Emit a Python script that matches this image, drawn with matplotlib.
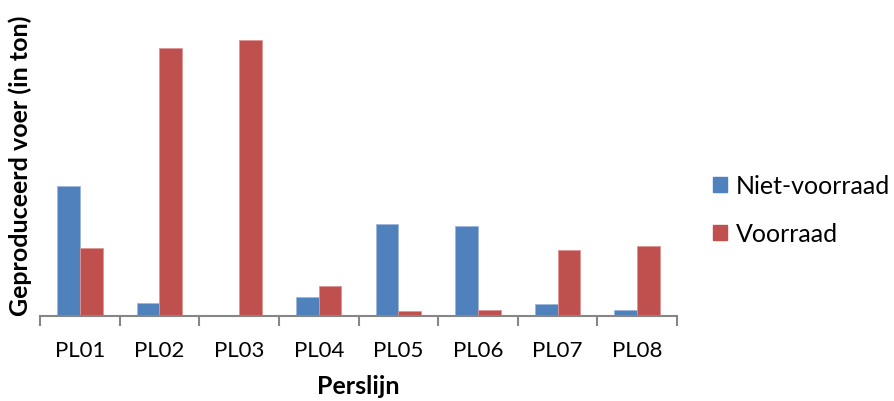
import numpy as np
import matplotlib
matplotlib.use("Agg")
import matplotlib.pyplot as plt
from matplotlib.patches import Patch

plt.rcParams['font.family'] = ['Lato', 'DejaVu Sans']

categories = ['PL01', 'PL02', 'PL03', 'PL04', 'PL05', 'PL06', 'PL07', 'PL08']
niet_voorraad = [130, 13, 1.5, 19, 92, 90, 12, 6]
voorraad = [68, 268, 276, 30, 5, 6, 66, 70]

blue = '#4F81BD'
red = '#C0504D'
grey = '#868686'

fig = plt.figure(figsize=(8.94, 4.01), dpi=100)
ax = fig.add_axes([40 / 894, 85 / 401, 637 / 894, 300 / 401])

x = np.arange(len(categories))
w = 1 / 3.5
ax.bar(x - w / 2, niet_voorraad, w, color=blue, edgecolor='#9DB6DA', linewidth=0.6)
ax.bar(x + w / 2, voorraad, w, color=red, edgecolor='#DC9695', linewidth=0.6)

ax.set_xlim(-0.5, len(categories) - 0.5)
ax.set_ylim(0, 300)

for s in ['top', 'right', 'left']:
    ax.spines[s].set_visible(False)
ax.spines['bottom'].set_color(grey)
ax.spines['bottom'].set_linewidth(1.5)

ax.set_yticks([])
ax.set_xticks(np.arange(len(categories) + 1) - 0.5, minor=False)
ax.set_xticklabels([])
ax.tick_params(axis='x', which='major', length=7, width=1.5, color=grey)
ax.set_xticks(x, minor=True)
ax.set_xticklabels(categories, minor=True, fontsize=16)
ax.tick_params(axis='x', which='minor', length=0, pad=18)

ax.set_xlabel('Perslijn', fontsize=18, fontweight='bold', labelpad=10)
ax.set_ylabel('Geproduceerd voer (in ton)', fontsize=18, fontweight='bold', labelpad=6)

handles = [Patch(color=blue, label='Niet-voorraad'), Patch(color=red, label='Voorraad')]
fig.legend(handles=handles, loc='center left', bbox_to_anchor=(713 / 894, 1 - 210 / 401),
           frameon=False, fontsize=18, handlelength=0.55, handleheight=0.55,
           handletextpad=0.35, labelspacing=1.0, borderaxespad=0, borderpad=0)

fig.savefig('out.png', dpi=100)
